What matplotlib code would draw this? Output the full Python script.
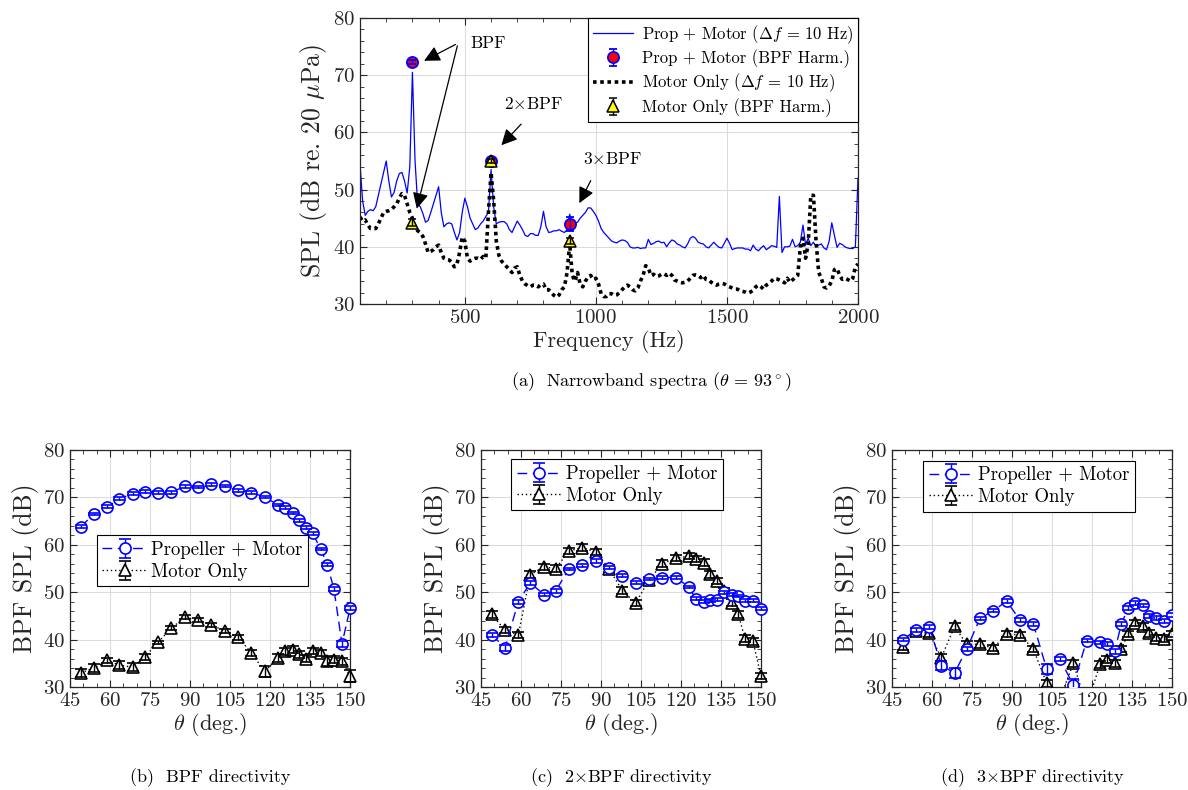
import numpy as np
import matplotlib
matplotlib.use("Agg")
import matplotlib.pyplot as plt
from matplotlib.ticker import MultipleLocator

plt.rcParams['font.family'] = 'serif'
plt.rcParams['font.serif'] = ['cmr10', 'DejaVu Serif']
plt.rcParams['mathtext.fontset'] = 'cm'
plt.rcParams['axes.formatter.use_mathtext'] = True

# ---- (a) narrowband spectra, 10 Hz bins from 100 to 2000 Hz ----
freq = np.arange(100, 2001, 10)

prop_spl = [
    54.5, 48.0, 45.5, 46.2, 46.5, 46.3, 47.0, 49.0, 51.0, 53.0,   # 100-190
    55.0, 51.5, 48.7, 49.5, 51.5, 52.8, 53.0, 51.5, 49.4, 54.0,   # 200-290
    70.5, 55.0, 47.5, 47.0, 45.8, 44.3, 44.6, 46.0, 47.5, 49.0,   # 300-390
    50.5, 46.0, 43.5, 44.0, 44.2, 44.0, 42.5, 41.2, 42.5, 46.0,   # 400-490
    48.5, 47.0, 45.0, 44.0, 43.0, 43.3, 44.0, 44.5, 45.3, 46.0,   # 500-590
    53.5, 47.0, 44.0, 44.3, 44.4, 44.4, 44.0, 43.0, 42.5, 43.5,   # 600-690
    44.5, 43.8, 43.0, 42.0, 41.8, 42.3, 42.3, 42.0, 42.0, 43.5,   # 700-790
    46.2, 43.5, 42.5, 42.6, 42.8, 42.8, 43.0, 42.7, 42.5, 43.0,   # 800-890
    45.7, 43.9, 44.1, 44.3, 45.0, 45.5, 46.0, 46.8, 46.8, 46.2,   # 900-990
    45.5, 44.5, 43.2, 42.5, 42.0, 41.5, 41.0, 40.8, 40.7, 41.0,   # 1000-1090
    41.2, 41.1, 40.8, 40.0, 39.8, 39.8, 39.9, 39.7, 39.8, 39.8,   # 1100-1190
    41.3, 40.4, 40.6, 40.9, 41.0, 40.7, 40.8, 40.0, 40.7, 41.2,   # 1200-1290
    41.0, 40.5, 40.3, 40.0, 39.8, 40.5, 41.5, 41.8, 41.5, 40.8,   # 1300-1390
    40.6, 40.5, 40.0, 39.8, 40.3, 40.8, 40.3, 39.9, 39.8, 40.6,   # 1400-1490
    41.5, 40.6, 39.5, 39.7, 39.8, 39.8, 39.8, 39.6, 39.6, 39.3,   # 1500-1590
    40.3, 39.6, 39.3, 39.8, 40.2, 39.5, 39.8, 40.2, 40.1, 39.9,   # 1600-1690
    48.8, 39.0, 40.0, 40.0, 40.1, 41.3, 40.0, 40.2, 40.8, 43.8,   # 1700-1790
    40.4, 41.5, 40.2, 40.8, 40.0, 40.3, 40.5, 39.8, 39.5, 41.0,   # 1800-1890
    44.2, 42.0, 39.9, 40.6, 40.4, 40.0, 39.8, 39.7, 39.7, 40.0,   # 1900-1990
    52.0,                                                         # 2000
]

motor_spl = [
    45.2, 44.5, 44.7, 43.8, 43.2, 43.2, 43.2, 44.0, 45.0, 46.0,   # 100-190
    46.2, 46.3, 46.5, 47.0, 47.5, 48.5, 49.3, 49.0, 47.5, 46.0,   # 200-290
    45.0, 43.5, 42.8, 42.5, 41.8, 40.5, 39.0, 39.2, 39.5, 40.0,   # 300-390
    40.3, 39.0, 38.0, 37.8, 37.7, 37.3, 36.5, 37.0, 39.0, 41.7,   # 400-490
    41.0, 38.0, 37.5, 37.8, 38.0, 38.0, 37.8, 38.3, 38.0, 46.0,   # 500-590
    53.0, 48.0, 41.0, 38.5, 37.5, 37.0, 36.5, 36.0, 35.5, 36.3,   # 600-690
    36.5, 35.0, 34.0, 33.5, 33.2, 33.0, 33.3, 33.3, 33.0, 33.4,   # 700-790
    33.5, 32.5, 32.5, 32.0, 31.5, 31.2, 31.6, 32.5, 33.0, 35.5,   # 800-890
    40.5, 35.0, 34.0, 35.5, 33.5, 33.0, 34.0, 34.7, 35.0, 34.3,   # 900-990
    34.5, 33.5, 31.8, 31.3, 31.3, 31.8, 31.8, 31.5, 31.6, 32.0,   # 1000-1090
    32.5, 33.0, 33.3, 33.0, 32.5, 32.3, 32.8, 34.0, 35.0, 36.7,   # 1100-1190
    36.3, 35.0, 35.2, 34.8, 34.9, 35.2, 35.3, 35.0, 35.4, 35.0,   # 1200-1290
    34.2, 34.0, 33.8, 33.7, 33.8, 34.0, 34.5, 35.0, 35.1, 35.0,   # 1300-1390
    34.6, 35.0, 34.3, 34.2, 33.8, 33.5, 33.3, 33.5, 33.6, 33.5,   # 1400-1490
    33.2, 33.0, 32.8, 32.6, 32.6, 32.3, 32.2, 32.1, 31.9, 32.1,   # 1500-1590
    32.4, 33.0, 33.3, 33.0, 32.6, 33.3, 33.6, 34.0, 34.5, 34.4,   # 1600-1690
    34.2, 34.0, 33.7, 34.5, 33.8, 34.2, 34.6, 35.0, 40.0, 41.5,   # 1700-1790
    38.0, 40.5, 49.0, 49.0, 41.0, 35.5, 34.5, 33.0, 32.8, 33.2,   # 1800-1890
    34.0, 36.0, 36.2, 35.0, 34.3, 34.5, 34.3, 34.0, 34.5, 36.5,   # 1900-1990
    37.0,                                                         # 2000
]

harm_freq = [300, 600, 900]
prop_harm = [72.3, 55.0, 44.0]
prop_harm_err = [0.3, 0.3, 1.2]
motor_harm = [44.2, 55.0, 41.0]
motor_harm_err = [0.6, 0.4, 0.5]

# ---- (b)-(d) directivity ----
theta = [49, 54, 59, 63.5, 68.5, 73, 78, 83, 88, 93, 98, 103, 108, 113,
         118, 123, 125.5, 128.5, 131, 133.5, 136, 139, 141.5, 144, 147, 150]

bpf_prop = [63.8, 66.5, 68.0, 69.7, 70.8, 71.2, 71.0, 71.1, 72.3, 72.2, 72.8, 72.4, 71.5,
            71.0, 70.1, 68.4, 67.8, 66.7, 65.2, 63.6, 62.4, 59.1, 55.8, 50.6, 39.1, 46.6]
bpf_prop_err = [0.3, 0.3, 0.3, 0.3, 0.3, 0.3, 0.3, 0.3, 0.3, 0.3, 0.3, 0.3, 0.3,
                0.3, 0.3, 0.3, 0.3, 0.3, 0.3, 0.3, 0.3, 0.3, 0.3, 0.4, 0.6, 0.4]
bpf_motor = [33.0, 34.0, 35.6, 34.6, 34.2, 36.3, 39.4, 42.4, 44.7, 44.2, 43.1, 41.8, 40.5,
             37.2, 33.3, 36.1, 37.5, 37.9, 36.9, 36.0, 37.6, 37.2, 35.4, 35.8, 35.4, 32.3]
bpf_motor_err = [0.8, 0.8, 0.6, 0.8, 0.8, 0.6, 0.4, 0.4, 0.4, 0.4, 0.4, 0.4, 0.5,
                 0.6, 1.2, 0.8, 0.8, 0.8, 0.8, 0.8, 0.6, 0.6, 1.0, 0.8, 0.8, 1.3]

bpf2_prop = [41.0, 38.3, 48.0, 52.0, 49.5, 50.3, 54.9, 55.7, 56.5, 55.2, 53.5, 52.0, 52.8,
             53.1, 53.1, 51.1, 48.6, 48.0, 48.3, 48.4, 50.0, 49.5, 49.2, 48.2, 48.2, 46.5]
bpf2_prop_err = [0.4, 0.6, 0.4, 0.4, 0.4, 0.4, 0.3, 0.3, 0.4, 0.3, 0.3, 0.3, 0.3,
                 0.3, 0.3, 0.3, 0.3, 0.3, 0.3, 0.3, 0.3, 0.3, 0.3, 0.3, 0.3, 0.3]
bpf2_motor = [45.3, 42.0, 41.0, 53.7, 55.3, 55.0, 58.7, 59.4, 58.5, 55.0, 50.3, 47.7, 52.6,
              56.0, 57.2, 57.6, 57.0, 56.2, 53.8, 52.4, 50.2, 47.8, 45.3, 40.2, 39.6, 32.3]
bpf2_motor_err = [0.7, 0.7, 0.7, 0.7, 0.7, 0.7, 0.7, 0.7, 0.7, 0.7, 0.7, 0.7, 0.7,
                  0.7, 0.7, 0.7, 0.7, 0.7, 0.7, 0.7, 0.7, 0.7, 0.7, 0.7, 0.7, 0.7]

bpf3_prop = [40.0, 42.0, 42.7, 34.5, 33.0, 38.0, 44.5, 46.1, 48.1, 44.1, 43.3, 33.8, 35.9,
             30.4, 39.8, 39.4, 39.0, 37.5, 43.3, 46.6, 47.7, 47.2, 45.0, 44.5, 43.9, 45.2]
bpf3_prop_err = [0.4, 0.4, 0.4, 1.0, 1.0, 0.5, 0.3, 0.3, 0.4, 0.4, 0.4, 1.0, 0.5,
                 1.2, 0.4, 0.4, 0.4, 0.6, 0.5, 0.4, 0.4, 0.4, 0.4, 0.4, 0.4, 0.4]
bpf3_motor = [38.5, 41.8, 41.3, 36.2, 42.8, 39.0, 39.0, 38.2, 41.2, 41.0, 38.0, 30.8, 27.5,
              35.0, 26.0, 34.8, 35.8, 35.0, 38.0, 41.2, 43.5, 42.8, 41.3, 40.3, 40.2, 41.2]
bpf3_motor_err = [0.7, 0.7, 0.7, 0.7, 0.7, 0.7, 0.7, 0.7, 0.7, 0.7, 0.7, 0.7, 0.8,
                  0.7, 0.8, 0.7, 0.7, 0.7, 0.7, 0.7, 0.7, 0.7, 0.7, 0.7, 0.7, 0.7]

W, H = 1188, 790
fig = plt.figure(figsize=(W / 100, H / 100), dpi=100)
ink = '#262626'


def style_axes(ax):
    ax.tick_params(which='both', direction='in', top=True, right=True, colors=ink)
    ax.tick_params(which='major', length=5, labelsize=15)
    ax.tick_params(which='minor', length=3)
    ax.grid(True, which='major', color='#dcdcdc', lw=0.8)
    ax.set_axisbelow(True)
    for s in ax.spines.values():
        s.set_color(ink)
        s.set_linewidth(0.9)


def px_axes(x0, y0, x1, y1):
    return fig.add_axes([x0 / W, 1 - y1 / H, (x1 - x0) / W, (y1 - y0) / H])


def bars_on_top(cont, z, clip=True):
    # draw error bars and caps over the marker faces, like MATLAB
    line, caps, cols = cont.lines
    line.set_zorder(z)
    line.set_clip_on(clip)
    for c in caps:
        c.set_zorder(z + 0.5)
        c.set_clip_on(clip)
    for c in cols:
        c.set_zorder(z + 0.5)
        c.set_clip_on(clip)


# ---------------- (a) ----------------
ax = px_axes(360, 18, 858, 304)
style_axes(ax)
l1, = ax.plot(freq, prop_spl, color='b', lw=0.9)
e1 = ax.errorbar(harm_freq, prop_harm, yerr=prop_harm_err, fmt='o', color='b',
                 mfc='r', mec='b', ms=8, mew=1.3, capsize=3, elinewidth=1)
l2, = ax.plot(freq, motor_spl, color='k', lw=2.6, ls=(0, (1, 1)))
e2 = ax.errorbar(harm_freq, motor_harm, yerr=motor_harm_err, fmt='^', color='k',
                 mfc='yellow', mec='k', ms=8, mew=1.1, capsize=3, elinewidth=1)
bars_on_top(e1, 5)
bars_on_top(e2, 6)
ax.set_xlim(100, 2000)
ax.set_ylim(30, 80)
ax.xaxis.set_major_locator(MultipleLocator(500))
ax.xaxis.set_minor_locator(MultipleLocator(100))
ax.yaxis.set_major_locator(MultipleLocator(10))
ax.yaxis.set_minor_locator(MultipleLocator(2))
ax.set_xlabel('Frequency (Hz)', fontsize=16, color=ink, labelpad=2)
ax.set_ylabel(r'SPL (dB re. 20 $\mu$Pa)', fontsize=18.5, color=ink, labelpad=3)
leg = ax.legend([l1, e1, l2, e2],
                [r'Prop + Motor ($\Delta f$ = 10 Hz)', 'Prop + Motor (BPF Harm.)',
                 r'Motor Only ($\Delta f$ = 10 Hz)', 'Motor Only (BPF Harm.)'],
                loc='upper right', fontsize=12, fancybox=False, framealpha=1,
                edgecolor='k', borderaxespad=0, handlelength=2.4, handletextpad=0.5,
                labelspacing=0.22, borderpad=0.3)
leg.get_frame().set_linewidth(0.8)

arrow = dict(arrowstyle='-|>', color='k', lw=0.9, mutation_scale=24)
ax.annotate('', xy=(335, 72.3), xytext=(474, 75.6), arrowprops=arrow)
ax.annotate('', xy=(314, 46.2), xytext=(474, 75.6), arrowprops=arrow)
ax.text(520, 75.6, 'BPF', fontsize=12.5, ha='left', va='center')
ax.annotate('', xy=(632, 57.4), xytext=(722, 61.8), arrowprops=arrow)
ax.text(760, 65.0, r'2$\times$BPF', fontsize=12.5, ha='center', va='center')
ax.annotate('', xy=(932, 47.2), xytext=(985, 52.0), arrowprops=arrow)
ax.text(1062, 55.3, r'3$\times$BPF', fontsize=12.5, ha='center', va='center')

fig.text(651 / W, 1 - 382 / H, r'(a)  Narrowband spectra ($\theta$ = 93$^\circ$)',
         fontsize=13, ha='center', va='center')

# ---------------- (b)-(d) ----------------
panels = [
    (70, bpf_prop, bpf_prop_err, bpf_motor, bpf_motor_err, (0.095, 0.64), False,
     '(b)  BPF directivity'),
    (481, bpf2_prop, bpf2_prop_err, bpf2_motor, bpf2_motor_err, (0.108, 0.96), False,
     r'(c)  2$\times$BPF directivity'),
    (892, bpf3_prop, bpf3_prop_err, bpf3_motor, bpf3_motor_err, (0.112, 0.955), True,
     r'(d)  3$\times$BPF directivity'),
]

for x0, p, pe, m, me, lpos, clip, cap in panels:
    ax = px_axes(x0, 450, x0 + 280, 687)
    style_axes(ax)
    ep = ax.errorbar(theta, p, yerr=pe, fmt='o', ls=(0, (7, 4)), color='b', lw=1,
                     mfc='white', mec='b', ms=8, mew=1.2, capsize=4, elinewidth=1)
    em = ax.errorbar(theta, m, yerr=me, fmt='^', ls=(0, (1, 2)), color='k', lw=1,
                     mfc='white', mec='k', ms=8, mew=1.2, capsize=4, elinewidth=1)
    bars_on_top(em, 3, clip)
    bars_on_top(ep, 4, clip)
    ax.set_xlim(45, 150)
    ax.set_ylim(30, 80)
    ax.set_xticks(np.arange(45, 151, 15))
    ax.xaxis.set_minor_locator(MultipleLocator(5))
    ax.yaxis.set_major_locator(MultipleLocator(10))
    ax.yaxis.set_minor_locator(MultipleLocator(2))
    ax.set_xlabel(r'$\theta$ (deg.)', fontsize=16, color=ink, labelpad=1)
    ax.set_ylabel('BPF SPL (dB)', fontsize=18.5, color=ink, labelpad=3)
    lg = ax.legend([ep, em], ['Propeller + Motor', 'Motor Only'], loc='upper left',
                   bbox_to_anchor=lpos, borderaxespad=0, fontsize=13.5, fancybox=False,
                   framealpha=1, edgecolor='k', handlelength=2.4, handletextpad=0.2,
                   labelspacing=0.2, borderpad=0.3)
    lg.get_frame().set_linewidth(0.8)
    fig.text((x0 + 140) / W, 1 - 778 / H, cap, fontsize=13, ha='center', va='center')

fig.savefig('out.png', dpi=100)
